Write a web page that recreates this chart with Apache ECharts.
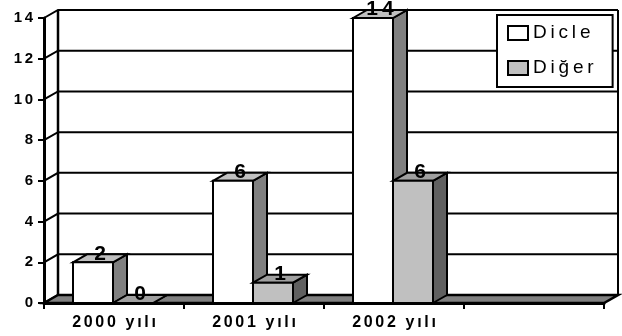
<!DOCTYPE html>
<html>
<head>
<meta charset="utf-8">
<script src="https://cdn.jsdelivr.net/npm/echarts@6/dist/echarts.min.js"></script>
<style>html,body{margin:0;padding:0;background:#fff;}#chart{width:622px;height:336px;}</style>
</head>
<body>
<div id="chart"></div>
<script>
const categories = ['2000 yılı', '2001 yılı', '2002 yılı', ''];
const seriesNames = ['Dicle', 'Diğer'];
const dicleValues = [2, 6, 14];
const digerValues = [0, 1, 6];
const yTickValues = [0, 2, 4, 6, 8, 10, 12, 14];

const FONT = "'Liberation Sans', Arial, sans-serif";
const DX = 14, DY = -8;
function spacedWith(sep) { return function (s) { return String(s).split('').join(sep); }; }
const thin = spacedWith('\u2009');
const hair2 = spacedWith('\u200A\u200A');

const palettes = [
  { front: '#ffffff', side: '#808080', top: '#c0c0c0' },
  { front: '#c0c0c0', side: '#606060', top: '#a0a0a0' }
];

function barRender(seriesIdx) {
  return function (params, api) {
    const cat = api.value(0), val = api.value(1);
    const top = api.coord([cat, val]);
    const base = api.coord([cat, 0]);
    const band = api.size([1, 0])[0];
    const w = band * 40 / 140;
    const x0 = top[0] - 1 + (seriesIdx === 0 ? -w : 0);
    const yT = top[1], yB = base[1];
    const pal = palettes[seriesIdx];
    const stroke = { stroke: '#000', lineWidth: 2, lineJoin: 'miter' };
    const children = [
      { type: 'polygon', shape: { points: [[x0 + w, yB], [x0 + w + DX, yB + DY], [x0 + w + DX, yT + DY], [x0 + w, yT]] },
        style: Object.assign({ fill: pal.side }, stroke) },
      { type: 'polygon', shape: { points: [[x0, yT], [x0 + DX, yT + DY], [x0 + w + DX, yT + DY], [x0 + w, yT]] },
        style: Object.assign({ fill: pal.top }, stroke) },
      { type: 'rect', shape: { x: x0, y: yT, width: w, height: yB - yT },
        style: Object.assign({ fill: pal.front }, stroke) },
      { type: 'text', z2: 10, style: { text: thin(val), x: x0 + w / 2 + DX / 2, y: yT + 2,
        align: 'center', verticalAlign: 'bottom', fill: '#000', font: 'bold 21px ' + FONT } }
    ];
    return { type: 'group', children: children };
  };
}

function wallRender(params, api) {
  const cs = params.coordSys;
  const v = api.value(1);
  const y = api.coord([0, v])[1];
  const xL = cs.x, xR = cs.x + cs.width;
  const children = [
    { type: 'polyline', shape: { points: [[xL, y], [xL + DX, y + DY], [xR + DX, y + DY]] },
      style: { stroke: '#000', lineWidth: 2, fill: null } }
  ];
  if (params.dataIndex === 0) {
    const yTop = api.coord([0, yTickValues[yTickValues.length - 1]])[1];
    children.push(
      { type: 'line', shape: { x1: xL + DX, y1: y + DY, x2: xL + DX, y2: yTop + DY }, style: { stroke: '#000', lineWidth: 2.5 } },
      { type: 'line', shape: { x1: xR + DX, y1: y + DY, x2: xR + DX, y2: yTop + DY }, style: { stroke: '#000', lineWidth: 2 } },
      { type: 'polygon', z2: 5, shape: { points: [[xL, y], [xR, y], [xR + DX, y + DY], [xL + DX, y + DY]] },
        style: { fill: '#808080', stroke: '#000', lineWidth: 2.5, lineJoin: 'miter' } }
    );
  }
  return { type: 'group', children: children };
}

const chart = echarts.init(document.getElementById('chart'), null, { renderer: 'canvas' });
chart.setOption({
  animation: false,
  backgroundColor: '#fff',
  grid: { left: 44, right: 18, top: 18, bottom: 33, containLabel: false },
  xAxis: {
    type: 'category', data: categories, boundaryGap: true,
    axisLine: { show: true, lineStyle: { color: '#000', width: 3 } },
    axisTick: { show: true, length: 6, lineStyle: { color: '#000', width: 2 } },
    axisLabel: { color: '#000', fontWeight: 'bold', fontSize: 16, fontFamily: FONT, margin: 12, formatter: hair2 },
    splitLine: { show: false }
  },
  yAxis: {
    type: 'value', min: 0, max: 14, interval: 2,
    axisLine: { show: true, lineStyle: { color: '#000', width: 3 } },
    axisTick: { show: true, length: 6, lineStyle: { color: '#000', width: 2 } },
    axisLabel: { color: '#000', fontWeight: 'bold', fontSize: 15, fontFamily: FONT, margin: 11, formatter: hair2 },
    splitLine: { show: false }
  },
  legend: {
    data: seriesNames, orient: 'vertical', left: 497, top: 15,
    icon: 'rect', itemWidth: 20, itemHeight: 14, itemGap: 15,
    padding: [8, 19, 9, 10],
    backgroundColor: '#fff', borderColor: '#000', borderWidth: 2,
    itemStyle: { borderColor: '#000', borderWidth: 2 },
    textStyle: { color: '#000', fontSize: 19, fontFamily: FONT, lineHeight: 20 },
    formatter: thin, selectedMode: false
  },
  series: [
    { type: 'custom', name: 'wall', z: 1, clip: false, silent: true,
      data: yTickValues.map(v => [0, v]), renderItem: wallRender },
    { type: 'custom', name: seriesNames[0], z: 3, clip: false, itemStyle: { color: palettes[0].front },
      data: dicleValues.map((v, i) => [i, v]), renderItem: barRender(0) },
    { type: 'custom', name: seriesNames[1], z: 4, clip: false, itemStyle: { color: palettes[1].front },
      data: digerValues.map((v, i) => [i, v]), renderItem: barRender(1) }
  ]
});
</script>
</body>
</html>
